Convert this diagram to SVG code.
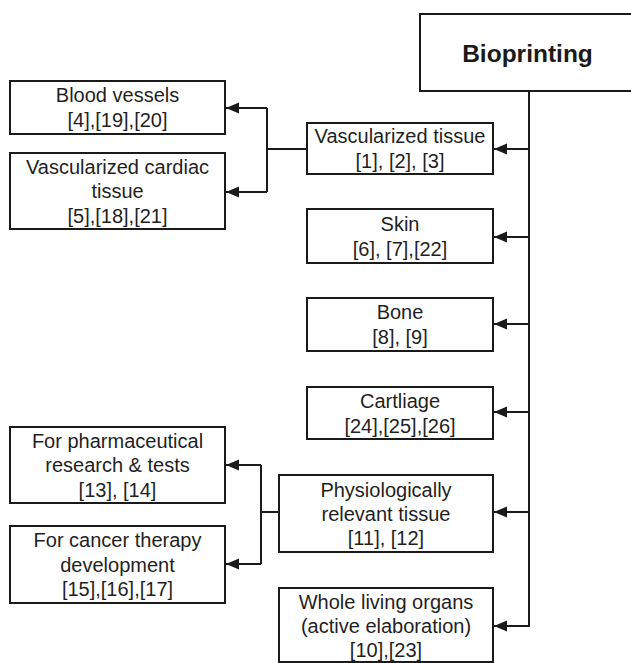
<svg xmlns="http://www.w3.org/2000/svg" width="631" height="663" viewBox="0 0 631 663">
<style>
.box{fill:#fff;stroke:#1a1a1a;stroke-width:2}
.t{font-family:"Liberation Sans",Arial,sans-serif;font-size:20px;fill:#1f1f1f;text-anchor:middle}
.tb{font-family:"Liberation Sans",Arial,sans-serif;font-size:24.5px;font-weight:bold;fill:#1a1a1a;text-anchor:middle}
.c{fill:none;stroke:#1a1a1a;stroke-width:2}
</style>
<defs>
<marker id="ah" markerUnits="userSpaceOnUse" markerWidth="14" markerHeight="12" refX="13" refY="6" orient="auto">
<path d="M0,0.5 L13,6 L0,11.5 z" fill="#1a1a1a"/>
</marker>
</defs>
<rect width="631" height="663" fill="#fff"/>
<g id="connectors">
<path class="c" d="M529,91 V627"/>
<path class="c" d="M529,149 H494" marker-end="url(#ah)"/>
<path class="c" d="M529,237 H494" marker-end="url(#ah)"/>
<path class="c" d="M529,324 H494" marker-end="url(#ah)"/>
<path class="c" d="M529,412 H494" marker-end="url(#ah)"/>
<path class="c" d="M529,512 H494" marker-end="url(#ah)"/>
<path class="c" d="M529,626 H494" marker-end="url(#ah)"/>
<path class="c" d="M307,149 H267"/>
<path class="c" d="M267,108 V192"/>
<path class="c" d="M267,108 H226" marker-end="url(#ah)"/>
<path class="c" d="M267,192 H226" marker-end="url(#ah)"/>
<path class="c" d="M279,512 H261"/>
<path class="c" d="M261,465 V564"/>
<path class="c" d="M261,465 H226" marker-end="url(#ah)"/>
<path class="c" d="M261,564 H226" marker-end="url(#ah)"/>
</g>
<g id="bioprinting">
<rect class="box" x="420" y="14" width="230" height="77"/>
<text class="tb" x="527.5" y="61.5">Bioprinting</text>
</g>
<g id="vascularized-tissue">
<rect class="box" x="307" y="123" width="186" height="51"/>
<text class="t" x="400" y="143">Vascularized tissue</text>
<text class="t" x="400" y="167.5">[1], [2], [3]</text>
</g>
<g id="blood-vessels">
<rect class="box" x="10" y="81" width="215" height="53"/>
<text class="t" x="117.5" y="102">Blood vessels</text>
<text class="t" x="117.5" y="127">[4],[19],[20]</text>
</g>
<g id="cardiac">
<rect class="box" x="10" y="153" width="215" height="76"/>
<text class="t" x="117.5" y="173.5">Vascularized cardiac</text>
<text class="t" x="117.5" y="198">tissue</text>
<text class="t" x="117.5" y="222.5">[5],[18],[21]</text>
</g>
<g id="skin">
<rect class="box" x="307" y="209" width="186" height="54"/>
<text class="t" x="400" y="230.5">Skin</text>
<text class="t" x="400" y="255.5">[6], [7],[22]</text>
</g>
<g id="bone">
<rect class="box" x="307" y="298" width="186" height="53"/>
<text class="t" x="400" y="319">Bone</text>
<text class="t" x="400" y="344">[8], [9]</text>
</g>
<g id="cartilage">
<rect class="box" x="307" y="387" width="186" height="52"/>
<text class="t" x="400" y="407.5">Cartliage</text>
<text class="t" x="400" y="432.5">[24],[25],[26]</text>
</g>
<g id="pharma">
<rect class="box" x="10" y="427" width="215" height="76"/>
<text class="t" x="117.5" y="447.5">For pharmaceutical</text>
<text class="t" x="117.5" y="472">research &amp; tests</text>
<text class="t" x="117.5" y="496.5">[13], [14]</text>
</g>
<g id="cancer">
<rect class="box" x="10" y="526" width="215" height="77"/>
<text class="t" x="117.5" y="547">For cancer therapy</text>
<text class="t" x="117.5" y="571.5">development</text>
<text class="t" x="117.5" y="596">[15],[16],[17]</text>
</g>
<g id="physio">
<rect class="box" x="279" y="475" width="214" height="77"/>
<text class="t" x="386" y="496.5">Physiologically</text>
<text class="t" x="386" y="520.5">relevant tissue</text>
<text class="t" x="386" y="545">[11], [12]</text>
</g>
<g id="whole-organs">
<rect class="box" x="279" y="588" width="214" height="74"/>
<text class="t" x="386" y="609">Whole living organs</text>
<text class="t" x="386" y="633">(active elaboration)</text>
<text class="t" x="386" y="657">[10],[23]</text>
</g>
</svg>
